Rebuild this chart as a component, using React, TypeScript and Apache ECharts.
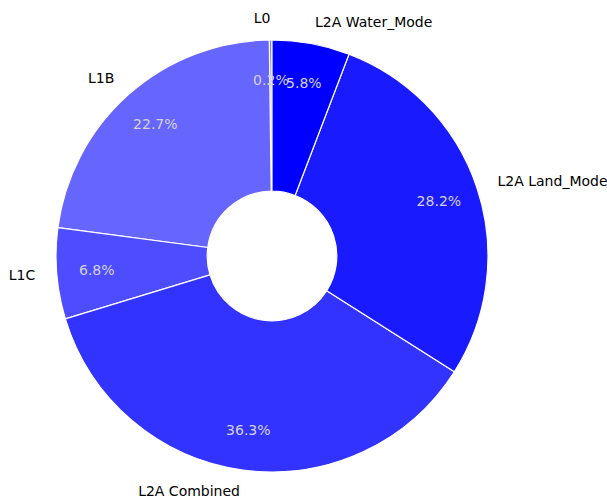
import React, { useEffect, useRef } from "react";
import * as echarts from "echarts";

const categories = ["L0", "L1B", "L1C", "L2A Combined", "L2A Land_Mode", "L2A Water_Mode"];
const values = [0.2, 22.7, 6.8, 36.3, 28.2, 5.8];
const colors = ["#8080ff", "#6666ff", "#4d4dff", "#3333ff", "#1a1aff", "#0000ff"];

const CX = 272;
const CY = 256;
const R = 216;

export default function App() {
  const ref = useRef<HTMLDivElement>(null);
  useEffect(() => {
    if (!ref.current) return;
    const chart = echarts.init(ref.current, undefined, { renderer: "svg" });
    const data = categories.map((name, i) => ({
      name,
      value: values[i],
      itemStyle: { color: colors[i] },
    }));
    const font = "'DejaVu Sans', sans-serif";
    const pctLabel = {
      show: true,
      position: "inside",
      formatter: (p: any) => p.value.toFixed(1) + "%",
      color: "#d3d3d3",
      fontSize: 14,
      fontFamily: font,
    };
    const pctSeries = (onlyFirst: boolean) => ({
      type: "pie",
      center: [CX, CY],
      radius: [R * 0.6, R],
      startAngle: 90,
      clockwise: false,
      avoidLabelOverlap: false,
      data: categories.map((name, i) => ({
        name,
        value: values[i],
        label: { show: onlyFirst ? i === 0 : i !== 0 },
      })),
      itemStyle: { color: "rgba(0,0,0,0)", borderWidth: 0 },
      label: pctLabel,
      labelLine: { show: false },
      labelLayout: { hideOverlap: false },
      emphasis: { disabled: true },
      silent: true,
    });
    chart.setOption({
      animation: false,
      backgroundColor: "#ffffff",
      series: [
        {
          type: "pie",
          center: [CX, CY],
          radius: [R * 0.3, R],
          startAngle: 90,
          clockwise: false,
          avoidLabelOverlap: false,
          data,
          itemStyle: { borderColor: "#ffffff", borderWidth: 1.2 },
          label: {
            show: true,
            position: "outside",
            formatter: "{b}",
            color: "#000000",
            fontSize: 14,
            fontFamily: font,
            distanceToLabelLine: 0,
          },
          labelLine: { show: false, length: R * 0.1, length2: 0 },
          emphasis: { disabled: true },
          silent: true,
        },
        pctSeries(false),
        pctSeries(true),
      ],
    });
    return () => chart.dispose();
  }, []);
  return (
    <div
      ref={ref}
      style={{ position: "fixed", left: 0, top: 0, width: 607, height: 500 }}
    />
  );
}
